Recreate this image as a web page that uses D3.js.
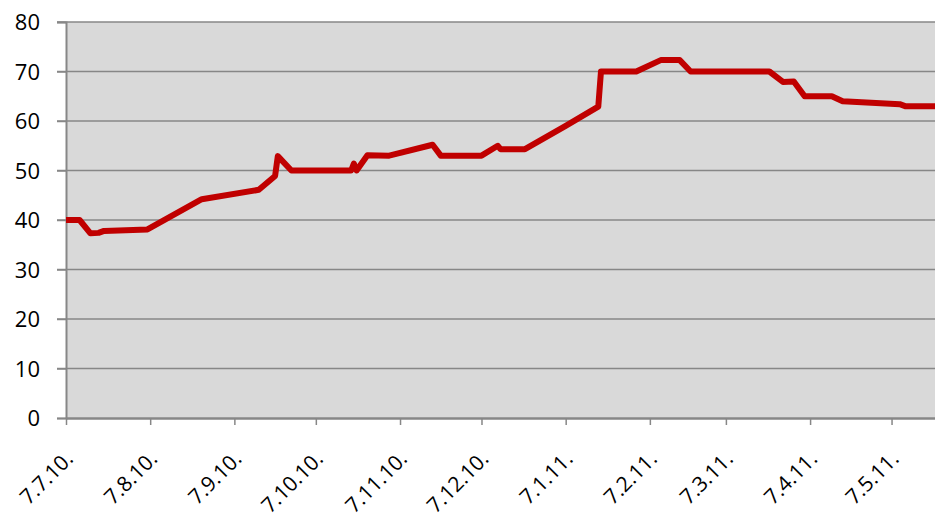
<!DOCTYPE html>
<html>
<head>
<meta charset="utf-8">
<script src="https://cdn.jsdelivr.net/npm/d3@7"></script>
<style>
  body { margin: 0; background: #fff; }
  text { font-family: "Open Sans", "Noto Sans", sans-serif; fill: #000; }
</style>
</head>
<body>
<div id="chart"></div>
<script>
// data
var dates = ["2010-07-07","2010-07-12","2010-07-16","2010-07-19","2010-07-21","2010-08-06","2010-08-26",
  "2010-09-16","2010-09-22","2010-09-23","2010-09-28","2010-10-20","2010-10-21","2010-10-22","2010-10-26",
  "2010-11-03","2010-11-19","2010-11-22","2010-12-07","2010-12-13","2010-12-14","2010-12-23","2011-01-07",
  "2011-01-19","2011-01-20","2011-02-02","2011-02-11","2011-02-18","2011-02-22","2011-03-23","2011-03-28",
  "2011-04-01","2011-04-05","2011-04-15","2011-04-19","2011-05-10","2011-05-12","2011-05-23"];
var values = [40, 40, 37.3, 37.4, 37.8, 38.1, 44.2,
  46.1, 48.9, 52.9, 50, 50, 51.4, 50, 53.1,
  53, 55.2, 53, 53, 55, 54.3, 54.3, 59,
  62.9, 70, 70, 72.3, 72.3, 70, 70, 67.9,
  68, 65, 65, 64, 63.4, 63, 63];
var yTicks = [0, 10, 20, 30, 40, 50, 60, 70, 80];

var parse = d3.timeParse("%Y-%m-%d");
var points = dates.map((d, i) => ({date: parse(d), value: values[i]}));

var width = 935,
    height = 522,
    margin = {top: 22, right: 0, bottom: 104, left: 66};

var svg = d3.select("#chart")
  .append("svg")
  .attr("width", width)
  .attr("height", height);

var x = d3.scaleTime()
  .domain([parse("2010-07-07"), parse("2011-05-23")])
  .range([margin.left, width - margin.right]);
var y = d3.scaleLinear()
  .domain([0, 80])
  .range([height - margin.bottom, margin.top]);

// plot background
svg.append("rect")
  .attr("x", margin.left)
  .attr("y", margin.top)
  .attr("width", width - margin.right - margin.left)
  .attr("height", y(0) - margin.top)
  .attr("fill", "#d9d9d9");

// gridlines
svg.append("g")
  .selectAll("line")
  .data(yTicks.slice(1))
  .enter().append("line")
  .attr("x1", margin.left - 9)
  .attr("x2", width - margin.right)
  .attr("y1", d => y(d))
  .attr("y2", d => y(d))
  .attr("stroke", "#878787")
  .attr("stroke-width", 1.5);

// y axis
var yAxis = svg.append("g")
  .attr("transform", `translate(${margin.left},0)`)
  .call(d3.axisLeft(y).tickValues(yTicks).tickSize(9).tickPadding(17));
yAxis.select(".domain").attr("stroke", "#878787").attr("stroke-width", 2);
yAxis.selectAll(".tick line").attr("stroke", "#878787").attr("stroke-width", 1.5);
yAxis.selectAll("text").style("font-size", "22px").attr("dy", "0.35em");

// x axis
var months = d3.timeMonth.every(1).range(parse("2010-07-01"), parse("2011-05-02"))
  .map(d => d3.timeDay.offset(d, 6));
var xAxis = svg.append("g")
  .attr("transform", `translate(0,${y(0)})`)
  .call(d3.axisBottom(x).tickValues(months).tickSize(7).tickSizeOuter(0)
    .tickFormat(d3.timeFormat("%-d.%-m.%y.")));
xAxis.select(".domain").attr("stroke", "#878787").attr("stroke-width", 2.5);
xAxis.selectAll(".tick line").attr("stroke", "#878787").attr("stroke-width", 1.5);
xAxis.selectAll("text")
  .style("font-size", "21px")
  .style("text-anchor", "end")
  .attr("y", 0)
  .attr("dy", 0)
  .attr("transform", "translate(8,42) rotate(-45)");

// line
var line = d3.line()
  .x(d => x(d.date))
  .y(d => y(d.value));

svg.append("path")
  .datum(points)
  .attr("fill", "none")
  .attr("stroke", "#c00000")
  .attr("stroke-width", 6)
  .attr("stroke-linejoin", "round")
  .attr("d", line);
</script>
</body>
</html>
